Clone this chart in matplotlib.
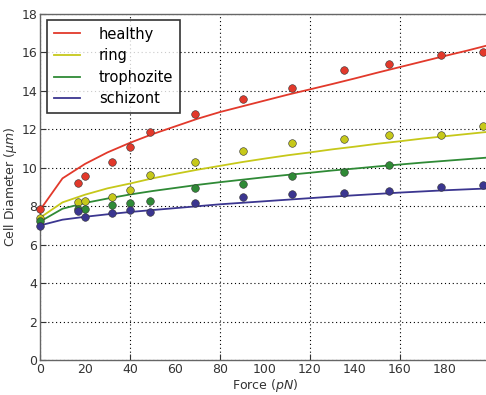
import matplotlib
matplotlib.use("Agg")
import matplotlib.pyplot as plt
from matplotlib.ticker import FixedLocator, FixedFormatter

# ---- data ----
pt_x = [0, 17, 20, 32, 40, 49, 69, 90, 112, 135, 155, 178, 197]
pt_x_troph = [0, 17, 20, 32, 40, 49, 69, 90, 112, 135, 155]
healthy_pts = [7.85, 9.2, 9.55, 10.3, 11.1, 11.85, 12.8, 13.57, 14.17, 15.1, 15.4, 15.89, 16.04]
ring_pts = [7.38, 8.2, 8.28, 8.5, 8.82, 9.65, 10.31, 10.87, 11.27, 11.51, 11.72, 11.72, 12.15]
troph_pts = [7.24, 7.86, 7.88, 8.07, 8.19, 8.28, 8.96, 9.17, 9.58, 9.8, 10.12]
schiz_pts = [6.99, 7.75, 7.43, 7.64, 7.78, 7.71, 8.19, 8.5, 8.61, 8.7, 8.8, 8.99, 9.13]

fit_x = [0, 10, 20, 30, 40, 50, 60, 70, 80, 90, 100, 110, 120, 130, 140, 150, 160, 170, 180, 190, 200]
healthy_fit = [7.8, 9.45, 10.2, 10.8, 11.3, 11.75, 12.15, 12.55, 12.9, 13.2, 13.5, 13.8, 14.08,
               14.36, 14.65, 14.95, 15.24, 15.53, 15.82, 16.1, 16.4]
ring_fit = [7.4, 8.2, 8.6, 8.93, 9.18, 9.45, 9.68, 9.9, 10.1, 10.3, 10.48, 10.65, 10.8, 10.96,
            11.1, 11.25, 11.38, 11.52, 11.64, 11.76, 11.88]
troph_fit = [7.2, 7.87, 8.17, 8.4, 8.61, 8.79, 8.95, 9.11, 9.25, 9.38, 9.51, 9.63, 9.74, 9.86,
             9.96, 10.07, 10.17, 10.27, 10.36, 10.45, 10.54]
schiz_fit = [7.0, 7.3, 7.45, 7.58, 7.7, 7.8, 7.9, 8.0, 8.1, 8.18, 8.26, 8.34, 8.42, 8.5, 8.57,
             8.64, 8.71, 8.77, 8.83, 8.88, 8.93]

labels = ["healthy", "ring", "trophozite", "schizont"]
colors = ["#e2392b", "#c6c81a", "#2f8a36", "#3b3690"]

x_major = [0, 40, 80, 120, 160]
x_minor = [20, 60, 100, 140, 180]
y_ticks = [0, 2, 4, 6, 8, 10, 12, 14, 16, 18]

# ---- figure ----
fig = plt.figure(figsize=(4.86, 3.95), dpi=100)
ax = fig.add_axes([40 / 486, 35 / 395, 450 / 486, 346 / 395])

series_pts = [(pt_x, healthy_pts), (pt_x, ring_pts), (pt_x_troph, troph_pts), (pt_x, schiz_pts)]
fits = [healthy_fit, ring_fit, troph_fit, schiz_fit]

for (px, py), fy, lab, col in zip(series_pts, fits, labels, colors):
    ax.plot(fit_x, fy, color=col, lw=1.3, label=lab, zorder=3)
    ax.plot(px, py, 'o', color=col, markersize=5.5, markeredgecolor='#333333',
            markeredgewidth=0.4, zorder=4, clip_on=False)

ax.set_xlim(0, 200)
ax.set_ylim(0, 18)

ax.xaxis.set_major_locator(FixedLocator(x_major))
ax.xaxis.set_minor_locator(FixedLocator(x_minor))
ax.xaxis.set_minor_formatter(FixedFormatter([str(v) for v in x_minor]))
ax.set_yticks(y_ticks)
ax.tick_params(axis='both', which='both', labelsize=9, colors='#333333', direction='in', pad=2)
ax.tick_params(axis='x', which='minor', length=0)
ax.tick_params(axis='both', which='major', length=4)
ax.tick_params(top=False, right=False)

ax.grid(True, which='major', axis='both', color='black', linestyle=(0, (1, 2.5)), lw=0.8)
ax.set_axisbelow(True)

for s in ax.spines.values():
    s.set_color('#666666')
    s.set_linewidth(1.0)

ax.set_xlabel("Force ($pN$)", fontsize=9, color='#333333', labelpad=1)
ax.set_ylabel("Cell Diameter ($\\mu m$)", fontsize=9, color='#333333', labelpad=2)

leg = ax.legend(loc='upper left', fontsize=10.5, frameon=True, fancybox=False,
                handlelength=1.8, handletextpad=1.3, borderpad=0.45, labelspacing=0.45,
                borderaxespad=0, bbox_to_anchor=(7 / 450, 1 - 6 / 346))
leg.get_frame().set_edgecolor('black')
leg.get_frame().set_linewidth(1.2)

fig.savefig("out.png", dpi=100)
